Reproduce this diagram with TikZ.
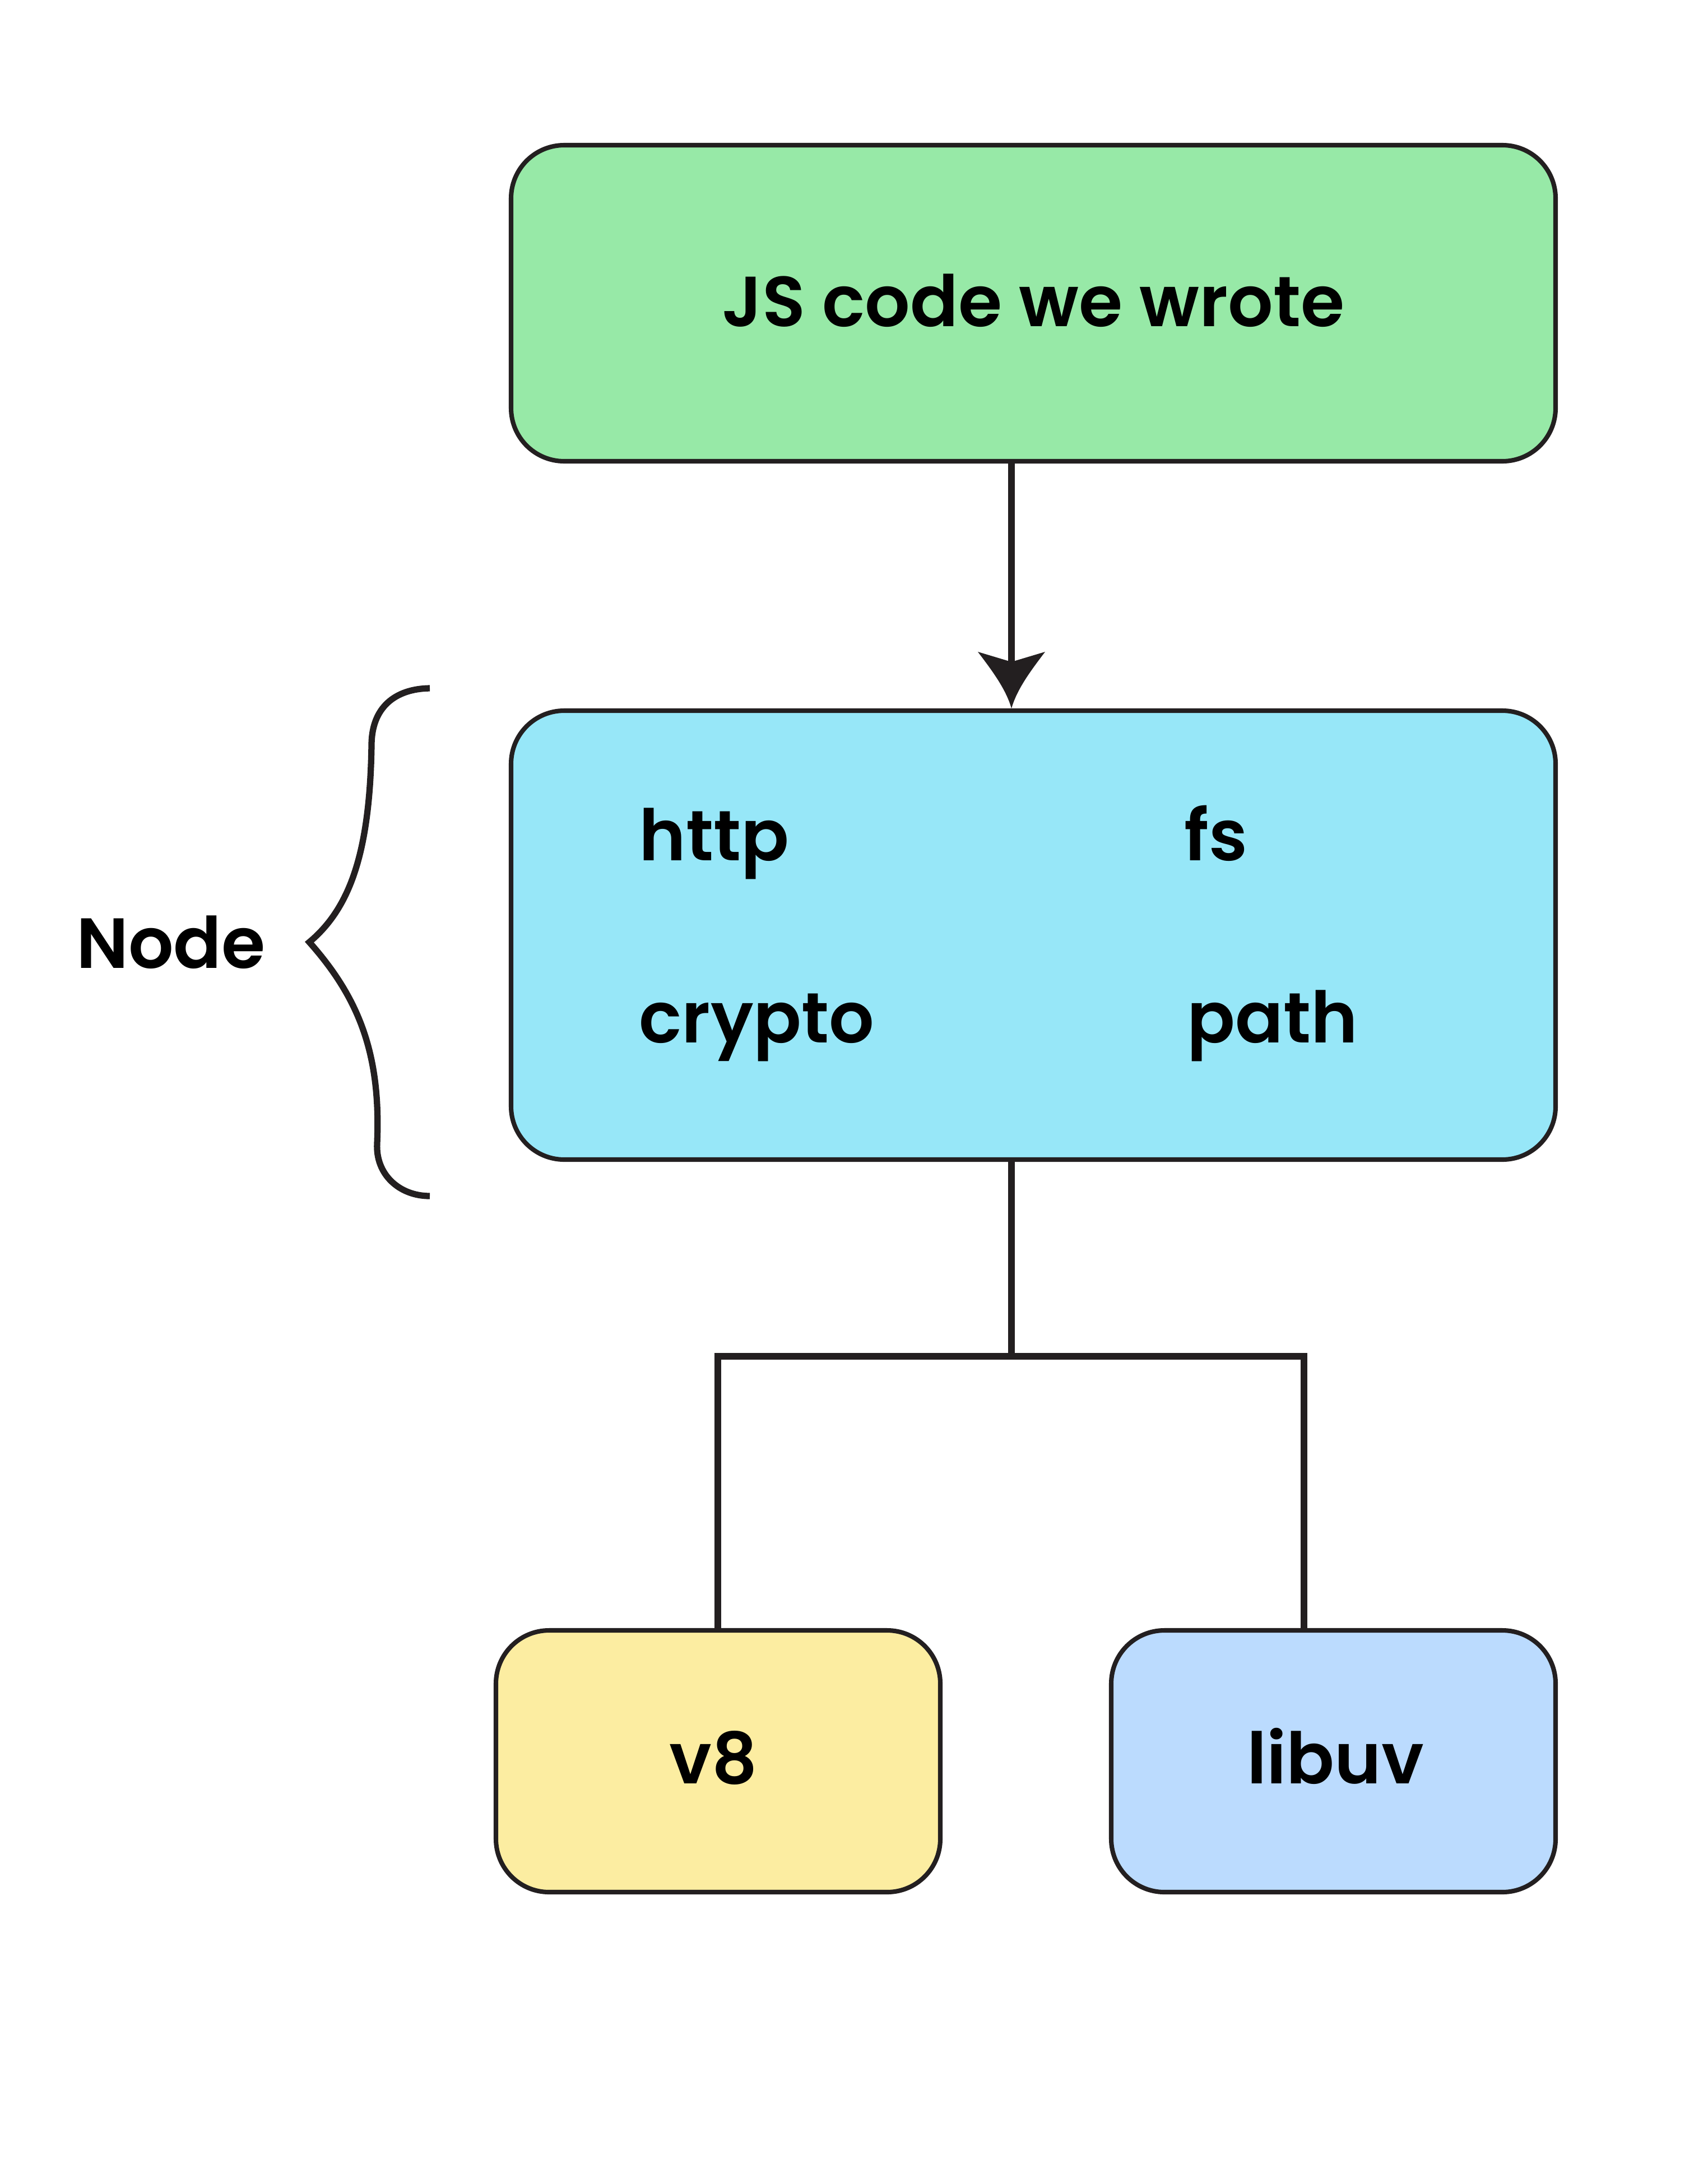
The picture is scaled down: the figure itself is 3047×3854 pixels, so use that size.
\documentclass[tikz,border=0pt]{standalone}
\usepackage{fontspec}
\setmainfont{Poppins}[BoldFont={Poppins SemiBold}]
\usetikzlibrary{arrows.meta,calc}
\definecolor{strokec}{HTML}{231F20}
\definecolor{greenc}{HTML}{97E9A7}
\definecolor{cyanc}{HTML}{97E7F8}
\definecolor{yellowc}{HTML}{FCEDA1}
\definecolor{bluec}{HTML}{BBDBFE}
\tikzset{
  box/.style={draw=strokec, line width=2.3pt, rounded corners=27pt},
  conn/.style={draw=strokec, line width=3.4pt},
  lbl/.style={font=\bfseries\fontsize{36}{44}\selectfont, text=black, inner sep=0pt},
}
\begin{document}
\begin{tikzpicture}[x=0.01cm,y=-0.01cm]
\useasboundingbox (0,0) rectangle (3047,3854);
% boxes
\path[box, fill=greenc] (912,259) rectangle (2776,823);
\path[box, fill=cyanc] (912,1268) rectangle (2776,2069);
\path[box, fill=yellowc] (885,2909) rectangle (1678,3376);
\path[box, fill=bluec] (1983,2909) rectangle (2776,3376);
\coordinate (topb) at (1805,823);
\coordinate (midt) at (1805,1264);
\coordinate (notch) at (1805,1185);
\coordinate (midb) at (1805,2069);
\coordinate (junc) at (1805,2420);
\coordinate (v8t) at (1281,2909);
\coordinate (uvt) at (2327,2909);
% texts
\node[lbl, anchor=base] (js) at (1844,582) {JS code we wrote};
\node[lbl, anchor=base west] (http) at (1140,1535) {http};
\node[lbl, anchor=base west] (fs) at (2113,1535) {fs};
\node[lbl, anchor=base west] (crypto) at (1140,1860) {crypto};
\node[lbl, anchor=base west] (path) at (2118,1860) {path};
\node[lbl, anchor=base] (v8) at (1273,3182) {v8};
\node[lbl, anchor=base] (libuv) at (2383,3182) {libuv};
\node[lbl, anchor=base] (nodel) at (305,1727) {Node};
% connectors
\draw[conn] (topb) -- (notch);
\fill[strokec, shift={(midt)}] (-60,-101) -- (0,-83) -- (60,-101)
  .. controls (35,-68) and (10,-35) .. (0,0)
  .. controls (-10,-35) and (-35,-68) .. (-60,-101) -- cycle;
\draw[conn] (midb) -- (junc);
\draw[conn] (junc) -| (v8t);
\draw[conn] (junc) -| (uvt);
% brace
\draw[strokec, line width=3.2pt, line join=miter, miter limit=20]
  (767,1228) .. controls (705,1229) and (663,1262) .. (663,1330)
  .. controls (660,1520) and (625,1620) .. (552,1681)
  .. controls (640,1780) and (680,1880) .. (673,2040)
  .. controls (670,2095) and (712,2134) .. (767,2134);
\end{tikzpicture}
\end{document}
